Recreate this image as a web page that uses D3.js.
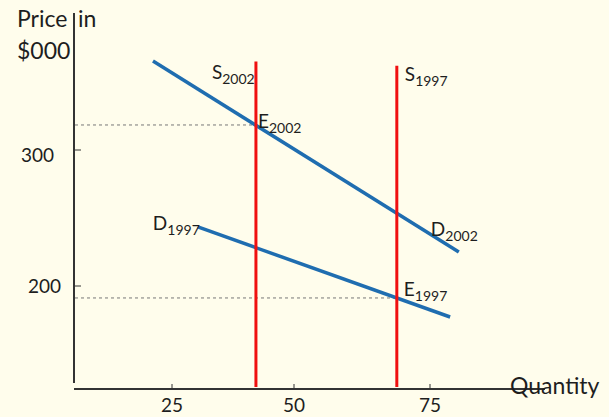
<!DOCTYPE html>
<html><head><meta charset="utf-8">
<script src="https://cdn.jsdelivr.net/npm/d3@7"></script>
<style>
html,body{margin:0;padding:0;background:#fffdec;}
svg{display:block;font-family:Lato,"Open Sans",sans-serif;}
</style></head>
<body>
<svg id="c" width="609" height="417"></svg>
<script>
// ---- data ----
const xTicks = [25, 50, 75];
const yTicks = [200, 300];
const supply2002 = {q: 42.2, pTop: 365, label: "S", sub: "2002"};
const supply1997 = {q: 68.9, pTop: 362, label: "S", sub: "1997"};
const demand2002 = [[21.1, 365.4], [80.3, 225.0]];
const demand1997 = [[30.3, 243.4], [78.7, 177.2]];
const eq2002 = [42.2, 318.4];
const eq1997 = [68.9, 191.2];

const svg = d3.select("#c");

// scales (hand-drawn original: slightly uneven spacing of x ticks)
const x = d3.scaleLinear().domain([0, 25, 50, 75, 100]).range([50, 172, 294, 430, 566]);
const y = d3.scaleLinear().domain([200, 300]).range([286, 150]);

const axisCol = "#333";
const txt = "#1e1e1e";
const blue = "#1f6db0";
const red = "#f01010";

// axes
const xAxisY = 389;
svg.append("line").attr("x1", 74).attr("x2", 545).attr("y1", xAxisY).attr("y2", xAxisY)
  .attr("stroke", axisCol).attr("stroke-width", 2);
svg.append("line").attr("x1", 74).attr("x2", 74).attr("y1", 13).attr("y2", 383)
  .attr("stroke", axisCol).attr("stroke-width", 2);

// x ticks
const gx = svg.append("g");
gx.selectAll("line").data(xTicks).join("line")
  .attr("x1", d => x(d)).attr("x2", d => x(d)).attr("y1", xAxisY - 5).attr("y2", xAxisY)
  .attr("stroke", axisCol).attr("stroke-width", 1);
gx.selectAll("text").data(xTicks).join("text")
  .attr("x", d => x(d)).attr("y", 412).attr("text-anchor", "middle")
  .attr("font-size", 19).attr("fill", txt).text(d => d);

// y ticks
const gy = svg.append("g");
gy.selectAll("line").data(yTicks).join("line")
  .attr("x1", 74).attr("x2", 81).attr("y1", d => y(d)).attr("y2", d => y(d))
  .attr("stroke", axisCol).attr("stroke-width", 1);
gy.selectAll("text").data(yTicks).join("text")
  .attr("x", d => d === 200 ? 61 : 54).attr("y", d => y(d) + (d === 200 ? 7 : 12)).attr("text-anchor", "end")
  .attr("font-size", 19).attr("fill", txt).text(d => d);

// axis titles
const titleFs = 23;
svg.append("text").attr("x", 17).attr("y", 27).attr("font-size", titleFs).attr("fill", txt).text("Price");
svg.append("text").attr("x", 78).attr("y", 27).attr("font-size", titleFs).attr("fill", txt).text("in");
svg.append("text").attr("x", 17).attr("y", 59).attr("font-size", titleFs).attr("fill", txt).text("$000");
svg.append("text").attr("x", 510).attr("y", 394).attr("font-size", titleFs).attr("fill", txt).text("Quantity");

// dashed guides
[eq2002, eq1997].forEach(e => {
  svg.append("line").attr("x1", 75).attr("x2", x(e[0])).attr("y1", y(e[1])).attr("y2", y(e[1]))
    .attr("stroke", "#777").attr("stroke-width", 1).attr("stroke-dasharray", "3,3");
});

// demand curves
const line = d3.line().x(d => x(d[0])).y(d => y(d[1]));
[demand2002, demand1997].forEach(d => {
  svg.append("path").attr("d", line(d)).attr("fill", "none")
    .attr("stroke", blue).attr("stroke-width", 3.5);
});

// supply lines
[supply2002, supply1997].forEach(s => {
  svg.append("line").attr("x1", x(s.q)).attr("x2", x(s.q))
    .attr("y1", y(s.pTop)).attr("y2", 387).attr("stroke", red).attr("stroke-width", 3);
});

// labels with subscripts
function lab(px, py, main, sub) {
  const t = svg.append("text").attr("x", px).attr("y", py).attr("font-size", 19).attr("fill", txt);
  t.append("tspan").text(main);
  t.append("tspan").attr("dy", 5).attr("font-size", 14).text(sub);
}
lab(x(supply2002.q) - 44, y(352), supply2002.label, supply2002.sub);
lab(x(supply1997.q) + 8, y(351), supply1997.label, supply1997.sub);
lab(x(eq2002[0]) + 2, y(eq2002[1]) + 3, "E", "2002");
lab(x(eq1997[0]) + 7, y(eq1997[1]) - 2, "E", "1997");
lab(x(demand1997[0][0]) - 45, y(demand1997[0][1]) + 3, "D", "1997");
lab(x(demand2002[1][0]) - 28, y(demand2002[1][1]) - 16, "D", "2002");
</script>
</body></html>
